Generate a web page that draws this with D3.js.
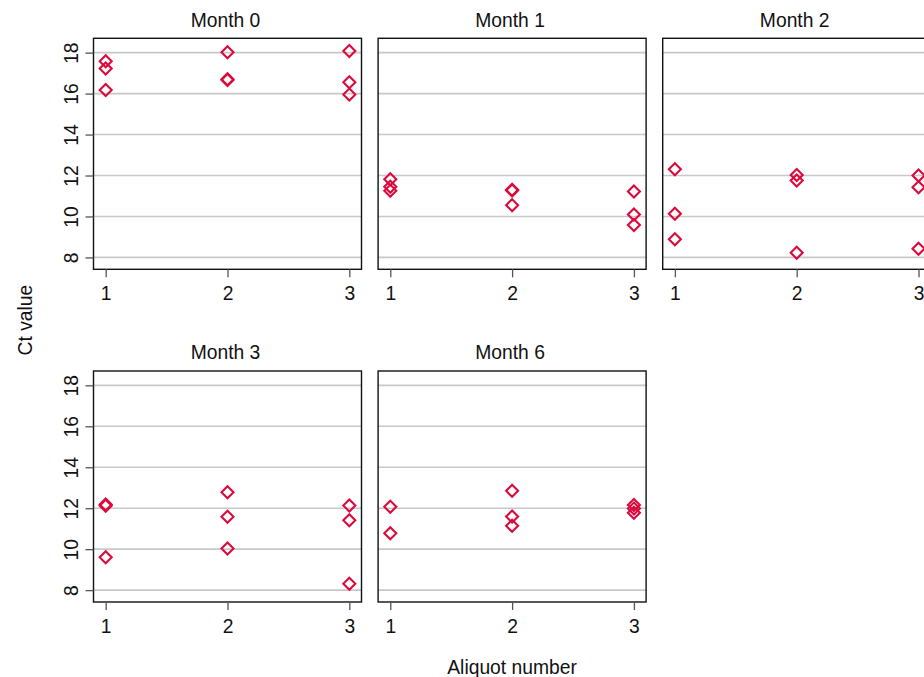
<!DOCTYPE html>
<html>
<head>
<meta charset="utf-8">
<script src="https://cdn.jsdelivr.net/npm/d3@7"></script>
<style>
  html, body { margin: 0; padding: 0; background: #fff; overflow: hidden; }
  svg { display: block; font-family: "Liberation Sans", Arial, sans-serif; }
</style>
</head>
<body>
<svg id="chart" width="924" height="677"></svg>
<script>
// Panels, one per sampling month
const months = ["Month 0", "Month 1", "Month 2", "Month 3", "Month 6"];
const aliquots = [1, 2, 3];
const yTicks = [8, 10, 12, 14, 16, 18];

// Ct values per panel: one array per aliquot (replicate readings)
const ctMonth0 = [[17.58, 17.22, 16.18], [18.02, 16.70, 16.66], [18.08, 16.55, 15.95]];
const ctMonth1 = [[11.82, 11.45, 11.25], [11.30, 11.27, 10.55], [11.22, 10.10, 9.58]];
const ctMonth2 = [[12.31, 10.13, 8.89], [12.03, 11.76, 8.23], [12.00, 11.43, 8.42]];
const ctMonth3 = [[12.18, 12.12, 9.61], [12.78, 11.58, 10.03], [12.13, 11.41, 8.31]];
const ctMonth6 = [[12.07, 10.78], [12.85, 11.59, 11.14], [12.16, 11.98, 11.78]];
const ctValues = [ctMonth0, ctMonth1, ctMonth2, ctMonth3, ctMonth6];

const svg = d3.select("#chart");

const panelW = 268, panelH = 231;
const colStep = 284.6, rowStep = 332.7;
const left0 = 93.5, top0 = 38.3;
const markColor = "#dc0a3c";
const fontSize = 19.3;
const textColor = "#111";

const x = d3.scaleLinear().domain([0.9, 3.1]).range([0, panelW]);
const y = d3.scaleLinear().domain([7.42, 18.7]).range([panelH, 0]);

// diamond marker path centred on the origin
function diamond(r) {
  const p = d3.path();
  p.moveTo(0, -r); p.lineTo(r, 0); p.lineTo(0, r); p.lineTo(-r, 0); p.closePath();
  return p.toString();
}
const diamondPath = diamond(6);

months.forEach((title, i) => {
  const col = i % 3, row = Math.floor(i / 3);
  const g = svg.append("g")
    .attr("transform", `translate(${left0 + col * colStep},${top0 + row * rowStep})`);

  // horizontal grid
  g.append("g").selectAll("line").data(yTicks).join("line")
    .attr("x1", 0).attr("x2", panelW)
    .attr("y1", d => y(d)).attr("y2", d => y(d))
    .attr("stroke", "#c8c8c8").attr("stroke-width", 1.6);

  // points
  const pts = [];
  ctValues[i].forEach((vals, k) => vals.forEach(v => pts.push({ a: aliquots[k], v })));
  g.append("g").selectAll("path").data(pts).join("path")
    .attr("d", diamondPath)
    .attr("transform", d => `translate(${x(d.a)},${y(d.v)})`)
    .attr("fill", "none").attr("stroke", markColor).attr("stroke-width", 2.1);

  // frame
  g.append("rect").attr("x", 0).attr("y", 0).attr("width", panelW).attr("height", panelH)
    .attr("fill", "none").attr("stroke", "#111").attr("stroke-width", 1.4);

  // x axis
  const xAxis = g.append("g").attr("transform", `translate(0,${panelH})`)
    .call(d3.axisBottom(x).tickValues(aliquots).tickFormat(d3.format("d")).tickSize(8));
  xAxis.select(".domain").remove();
  xAxis.selectAll(".tick line").attr("stroke", "#555").attr("stroke-width", 1.3);
  xAxis.selectAll(".tick text")
    .attr("y", 31).attr("dy", null)
    .attr("font-size", fontSize).attr("fill", textColor)
    .attr("font-family", "Liberation Sans, Arial, sans-serif");

  // y axis (only on the first column)
  if (col === 0) {
    const yAxis = g.append("g")
      .call(d3.axisLeft(y).tickValues(yTicks).tickSize(8).tickFormat(d3.format("d")));
    yAxis.select(".domain").remove();
    yAxis.selectAll(".tick line").attr("stroke", "#555").attr("stroke-width", 1.3);
    yAxis.selectAll(".tick text")
      .attr("x", null).attr("dy", null)
      .attr("transform", "translate(-16,0) rotate(-90)")
      .attr("text-anchor", "middle")
      .attr("font-size", fontSize).attr("fill", textColor)
      .attr("font-family", "Liberation Sans, Arial, sans-serif");
  }

  // panel title
  g.append("text").attr("x", panelW / 2 - 2).attr("y", -11.6)
    .attr("text-anchor", "middle").attr("font-size", fontSize).attr("fill", textColor)
    .text(title);
});

// shared axis titles
svg.append("text")
  .attr("transform", `translate(31.5,${top0 + (rowStep + panelH) / 2}) rotate(-90)`)
  .attr("text-anchor", "middle").attr("font-size", fontSize).attr("fill", textColor)
  .text("Ct value");

svg.append("text")
  .attr("x", left0 + (2 * colStep + panelW) / 2).attr("y", 673.5)
  .attr("text-anchor", "middle").attr("font-size", fontSize).attr("fill", textColor)
  .text("Aliquot number");
</script>
</body>
</html>
